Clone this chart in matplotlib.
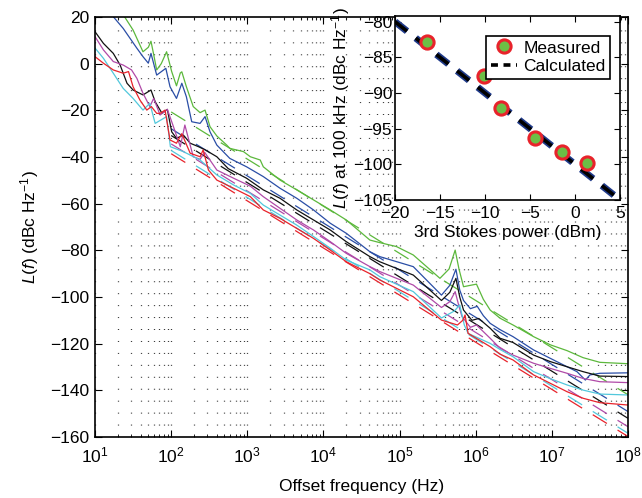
import numpy as np
import matplotlib
matplotlib.use("Agg")
import matplotlib.pyplot as plt
from matplotlib.lines import Line2D

plt.rcParams["font.family"] = ["Liberation Sans", "DejaVu Sans"]
plt.rcParams["mathtext.fontset"] = "custom"
plt.rcParams["mathtext.rm"] = "Liberation Sans"
plt.rcParams["mathtext.it"] = "Liberation Sans:italic"
plt.rcParams["lines.scale_dashes"] = False

# === Data: measured phase noise (x as log10 of offset frequency in Hz, y in dBc/Hz) ===
green_fexp = [1.30, 1.37, 1.50, 1.63, 1.70, 1.735, 1.77, 1.81, 1.87, 1.94, 2.007, 2.07, 2.12, 2.14,
              2.20, 2.29, 2.38, 2.445, 2.51, 2.60, 2.73, 2.77, 2.95, 3.04, 3.17, 3.21, 3.43, 3.65,
              3.87, 4.09, 4.30, 4.61, 4.74, 4.96, 5.18, 5.53, 5.65, 5.73, 5.78, 5.84, 5.93, 6.01,
              6.10, 6.19, 6.32, 6.49, 6.76, 6.98, 7.20, 7.41, 7.63, 8.0]
green_db = [24, 21, 14.4, 5.1, 7, 9.6, 4, -2.7, 0, 5.1, -3.4, -9.5, -4, -3.5,
            -9.9, -18.4, -21, -19.9, -27, -31, -34.9, -36.3, -37.7, -39.9, -41.3, -44.2, -49.9, -54.1,
            -58.4, -62.7, -67, -75.6, -76.7, -78.4, -82, -92, -88, -79.9, -88, -95.6, -95, -94.5,
            -101, -105.6, -109.1, -112, -117, -120.5, -123, -126, -128, -128.6]

blue_fexp = [1.15, 1.22, 1.37, 1.55, 1.63, 1.70, 1.735, 1.81, 1.93, 1.985, 2.07, 2.14, 2.20, 2.27,
             2.38, 2.445, 2.51, 2.60, 2.77, 2.99, 3.21, 3.43, 3.65, 3.87, 4.09, 4.30, 4.61, 4.74,
             5.18, 5.55, 5.66, 5.74, 5.79, 5.84, 5.93, 6.02, 6.10, 6.19, 6.32, 6.49, 6.76, 6.98,
             7.20, 7.33, 7.44, 7.50, 7.63, 8.0]
blue_db = [24, 20.9, 15.1, 6.6, 3.0, 0.2, 4.4, -4.9, -2, -9.9, -14.9, -8.4, -14.2, -24.9,
           -25.6, -22.7, -29.2, -34.9, -40.6, -44.2, -48.4, -53.4, -57.7, -62.7, -68.4, -72.7, -80.6, -82.7,
           -87, -99.2, -95, -88.1, -97, -101.5, -105, -104, -108, -111.3, -114, -117, -122.7, -126.3,
           -129.9, -132, -135.6, -133.4, -132.7, -132.5]

black_fexp = [1.0, 1.11, 1.24, 1.33, 1.42, 1.50, 1.63, 1.735, 1.79, 1.88, 1.95, 2.007, 2.07, 2.16,
              2.25, 2.36, 2.45, 2.60, 2.75, 2.99, 3.21, 3.43, 3.65, 3.87, 4.09, 4.30, 4.61, 4.74,
              5.18, 5.55, 5.66, 5.74, 5.79, 5.84, 5.95, 6.04, 6.19, 6.32, 6.49, 6.76, 6.98, 7.20,
              7.41, 7.63, 8.0]
black_db = [13.7, 8.7, 4.4, -0.6, -8.4, -11.3, -13.4, -11.3, -16.3, -21.3, -19.6, -29.2, -32, -30.6,
            -34.1, -35.6, -37, -39.9, -45, -49.1, -54.1, -57.7, -62.7, -67, -71.3, -76.3, -82.7, -84.9,
            -90.6, -101.5, -98, -92, -100, -105.6, -110, -109.2, -113.4, -117.7, -119.5, -124.9, -127.7, -129.9,
            -132, -133.9, -134.1]

magenta_fexp = [1.0, 1.11, 1.24, 1.37, 1.48, 1.55, 1.63, 1.72, 1.77, 1.855, 1.95, 2.03, 2.12, 2.18,
                2.29, 2.38, 2.44, 2.60, 2.82, 3.04, 3.21, 3.43, 3.65, 3.87, 4.09, 4.30, 4.61, 4.74,
                5.18, 5.55, 5.66, 5.73, 5.78, 5.82, 5.93, 6.01, 6.19, 6.32, 6.49, 6.76, 6.98, 7.20,
                7.41, 7.63, 8.0]
magenta_db = [11.6, 5.9, 0.9, -0.6, -2.7, -6.3, -12.7, -18.4, -14.9, -22, -19.6, -27, -35.6, -26.3,
              -39.9, -41, -38, -45.6, -49.1, -52.5, -57, -62, -67, -71.3, -76.3, -81.3, -87, -89.1,
              -94.9, -104.5, -102, -97.7, -104, -108.4, -113, -112, -117.7, -122, -124.9, -128.4, -130.6, -132.7,
              -134.9, -136.3, -136.7]

cyan_fexp = [1.0, 1.11, 1.24, 1.37, 1.50, 1.63, 1.72, 1.79, 1.94, 1.99, 2.16, 2.38, 2.60, 2.82,
             3.04, 3.21, 3.43, 3.65, 3.87, 4.09, 4.30, 4.61, 4.74, 5.18, 5.55, 5.72, 5.79, 5.85,
             5.90, 6.19, 6.32, 6.49, 6.76, 6.98, 7.20, 7.41, 7.63, 8.0]
cyan_db = [6.7, 2.3, -4.1, -10.6, -14.9, -19.9, -17, -25.6, -22.7, -35.6, -37.7, -41.3, -47.7, -52,
           -55.6, -60.6, -64.9, -69.2, -74.1, -79.1, -84.2, -88.4, -91.3, -97.7, -109, -106, -103.4, -112,
           -115.6, -119.9, -122.5, -125.6, -132, -135, -137.7, -139.9, -141.6, -142]

red_fexp = [1.0, 1.11, 1.24, 1.37, 1.44, 1.50, 1.59, 1.68, 1.74, 1.81, 1.855, 1.92, 1.985, 2.07,
            2.14, 2.25, 2.38, 2.42, 2.49, 2.60, 2.82, 3.04, 3.21, 3.43, 3.65, 3.87, 4.09, 4.30,
            4.61, 4.74, 5.18, 5.55, 5.76, 5.83, 5.86, 5.90, 6.19, 6.32, 6.49, 6.76, 6.98, 7.20,
            7.41, 7.63, 8.0]
red_db = [3.0, 0.2, -2.7, -4.1, -3.4, -9.9, -15.6, -19.9, -18.4, -21.3, -21.3, -19.9, -32.7, -34.1,
          -30, -38.4, -39.9, -37, -45.6, -49.9, -53.4, -57, -62.7, -66.3, -70.6, -74.9, -79.9, -84.9,
          -90, -92.7, -99.9, -109.9, -112, -110, -107.7, -115.6, -121.3, -124.5, -127, -133.4, -137, -140.6,
          -143.4, -145.3, -146.3]

# calculated curves (start/end points, straight in log-f)
calc_fexp = [2.0, 8.0]
green_calc = [-20.7, -141.9]
blue_calc = [-27.9, -149.1]
black_calc = [-30.8, -152.0]
magenta_calc = [-34.4, -155.6]
cyan_calc = [-37.2, -158.4]
red_calc = [-38.6, -159.8]

# inset data
stokes_power = [-16.5, -10.1, -8.2, -4.5, -1.4, 1.3]
noise_100k = [-82.9, -87.6, -92.1, -96.3, -98.3, -99.8]
calc_power = [-20, 5]
calc_noise = [-80, -105]

colors = {"green": "#5cb83c", "blue": "#2a4ea6", "black": "#111111",
          "magenta": "#b04aa8", "cyan": "#52c8dc", "red": "#e8232b"}
series = [("green", green_fexp, green_db, green_calc),
          ("blue", blue_fexp, blue_db, blue_calc),
          ("black", black_fexp, black_db, black_calc),
          ("magenta", magenta_fexp, magenta_db, magenta_calc),
          ("cyan", cyan_fexp, cyan_db, cyan_calc),
          ("red", red_fexp, red_db, red_calc)]

FS = 12.5

# === Figure ===
fig = plt.figure(figsize=(6.42, 4.98), dpi=100)
ax = fig.add_axes([0.148, 0.1225, 0.8302, 0.8434])

calc_f = 10 ** np.array(calc_fexp)
for name, fexp, db, calc in series:
    c = colors[name]
    ax.plot(10 ** np.array(fexp), db, color=c, lw=0.9)
    ax.plot(calc_f, calc, color=c, lw=0.9, dashes=(12, 9))

ax.set_xscale("log")
ax.set_xlim(10, 1e8)
ax.set_ylim(-160, 20)
ax.set_yticks(np.arange(-160, 21, 20))
ax.set_xticks([10.0 ** k for k in range(1, 9)])
ax.set_xticklabels([r"$10^{%d}$" % k for k in range(1, 9)])
ax.grid(True, which="both", axis="x", color="#333333", lw=0.9, linestyle=(0, (0.7, 7.9)))
ax.tick_params(which="both", direction="in", top=True, right=True, labelsize=FS)
ax.tick_params(which="major", length=5)
ax.tick_params(axis="x", which="major", pad=6)
ax.tick_params(axis="y", which="major", pad=4)
ax.tick_params(which="minor", length=2.5)
for s in ax.spines.values():
    s.set_linewidth(1.2)
ax.set_xlabel("Offset frequency (Hz)", fontsize=FS, labelpad=10)
ax.set_ylabel(r"$L(f)$ (dBc Hz$^{-1}$)", fontsize=FS, labelpad=7)

# === Inset ===
ins = fig.add_axes([0.6153, 0.5984, 0.3505, 0.3695])
ins.plot(calc_power, calc_noise, color="#1f3a8a", lw=5, dashes=(11, 8), solid_capstyle="butt")
ins.plot(calc_power, calc_noise, color="black", lw=2.6, dashes=(11, 8))
ins.plot(stokes_power, noise_100k, "o", ms=9.5, mfc="#6cbf45", mec="#e8232b", mew=2.2, linestyle="none")
ins.set_xlim(-20, 5)
ins.set_ylim(-105, -79.2)
ins.set_xticks(np.arange(-20, 6, 5))
ins.set_yticks(np.arange(-105, -79, 5))
ins.tick_params(direction="in", top=True, right=True, labelsize=FS, length=4)
ins.tick_params(axis="x", pad=4)
ins.tick_params(axis="y", pad=2)
for s in ins.spines.values():
    s.set_linewidth(1.2)
ins.set_xlabel("3rd Stokes power (dBm)", fontsize=FS, labelpad=3)
ins.set_ylabel(r"$L(f)$ at 100 kHz (dBc Hz$^{-1}$)", fontsize=FS, labelpad=1)

handles = [Line2D([0], [0], marker="o", ms=9.5, mfc="#6cbf45", mec="#e8232b", mew=2.2, linestyle="none"),
           Line2D([0], [0], color="black", lw=2.6, dashes=(5, 4))]
leg = ins.legend(handles, ["Measured", "Calculated"], loc="upper right",
                 bbox_to_anchor=(0.956, 0.891), borderaxespad=0, fontsize=FS,
                 fancybox=False, edgecolor="black", framealpha=1, handlelength=1.5,
                 handletextpad=0.4, borderpad=0.25, labelspacing=0.2)
leg.get_frame().set_linewidth(1.2)

fig.savefig("out.png", dpi=100)
